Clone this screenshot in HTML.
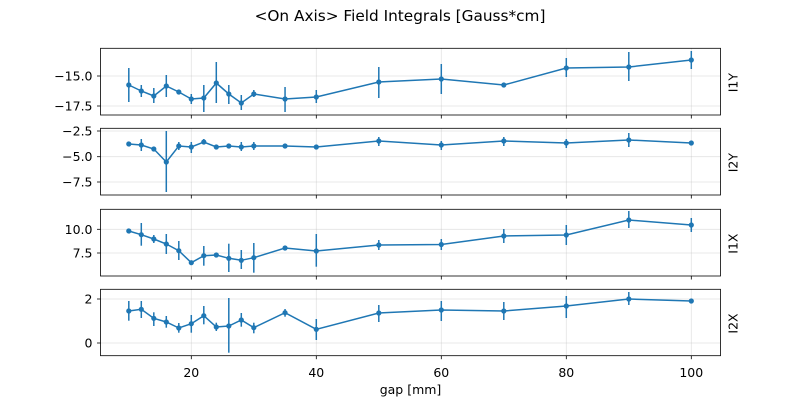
<!DOCTYPE html>
<html><head><meta charset="utf-8"><style>
body{margin:0;background:#fff;}
svg{display:block;font-family:"DejaVu Sans","Liberation Sans",sans-serif;}
</style></head><body>
<svg id="s" width="800" height="400" xmlns="http://www.w3.org/2000/svg">
<text x="400" y="21" font-size="15.3" text-anchor="middle">&lt;On Axis&gt; Field Integrals [Gauss*cm]</text>
</svg>
<script>
const s=document.getElementById('s');
const L=100.5,R=720.5;
const gx=g=>191.3+(g-20)*6.25;
const gaps=[10,12,14,16,18,20,22,24,26,28,30,35,40,50,60,70,80,90,100];
const panels=[
{t:48.3,b:115,lab:"I1Y",ticks:[[76,"−15.0"],[106,"−17.5"]],
d:[[85,68,102],[91,85,97],[96,88,103],[86,75,97],[92,90,94],[99,94,104],[98,85,112],[83,62,103],[94,85,104],[103,95,110],[94,90,97],[99,87,112],[97,90,103],[82,67,98],[79,64,94],[85,84,86],[68,58,77],[67,52,81],[60,51,69]]},
{t:128.3,b:195,lab:"I2Y",ticks:[[131,"−2.5"],[156.7,"−5.0"],[182,"−7.5"]],
d:[[144,142,146],[145,139,151],[149,147,151],[162,131,192],[146,142,150],[147,142,153],[142,139,144],[147,146,148],[146,145,147],[147,142,151],[146,142,150],[146,145,147],[147,146,148],[141,137,146],[145,141,150],[141,137,146],[143,139,148],[140,133,147],[143,141,145]]},
{t:209.3,b:276,lab:"I1X",ticks:[[229.3,"10.0"],[253,"7.5"]],
d:[[231,228.7,233],[234.7,223,245.7],[239,235,243],[244,234,254],[250.7,241,260],[262.7,261,264],[255.7,246,265.7],[255,253,257],[258.3,243.7,272],[260.3,250,269],[257.7,243,272.7],[248,246,250],[251,234,266.7],[245,240,250],[244.5,239,250],[236,229,243],[235,225,245],[220,211,228],[225,218,232]]},
{t:289.3,b:355.7,lab:"I2X",ticks:[[299,"2"],[343,"0"]],
d:[[311,301,320.7],[309.3,301,318],[318.3,312.3,326],[322,316,327.7],[328,323,332.7],[323.7,315,332.7],[315.7,306,324.3],[327,322.7,331],[326,298,352.7],[320,313,326.7],[327.7,322.7,333.3],[312.7,309,316.7],[329.3,319,340],[313,305,322],[310,301,321],[311,302,320],[306,296,318],[299,292,305],[301,299,303]]}
];
let h='';
const xt=[20,40,60,80,100];
const fs=12.5;
panels.forEach((p,pi)=>{
  xt.forEach(g=>{h+=`<line x1="${gx(g)}" x2="${gx(g)}" y1="${p.t}" y2="${p.b}" stroke="#b0b0b0" stroke-opacity="0.35" stroke-width="0.8"/>`;
    h+=`<line x1="${gx(g)}" x2="${gx(g)}" y1="${p.b}" y2="${p.b+3.5}" stroke="#000" stroke-width="0.8"/>`;});
  p.ticks.forEach(([y,t])=>{h+=`<line x1="${L}" x2="${R}" y1="${y}" y2="${y}" stroke="#b0b0b0" stroke-opacity="0.35" stroke-width="0.8"/>`;
    h+=`<line x1="${L-3.5}" x2="${L}" y1="${y}" y2="${y}" stroke="#000" stroke-width="0.8"/>`;
    h+=`<text x="${L-8}" y="${y+4.5}" font-size="${fs}" text-anchor="end">${t}</text>`;});
  let pts=p.d.map((v,i)=>gx(gaps[i])+','+v[0]).join(' ');
  p.d.forEach((v,i)=>{h+=`<line x1="${gx(gaps[i])}" x2="${gx(gaps[i])}" y1="${v[1]}" y2="${v[2]}" stroke="#1f77b4" stroke-width="1.5"/>`;});
  h+=`<polyline points="${pts}" fill="none" stroke="#1f77b4" stroke-width="1.5"/>`;
  p.d.forEach((v,i)=>{h+=`<circle cx="${gx(gaps[i])}" cy="${v[0]}" r="2.6" fill="#1f77b4"/>`;});
  h+=`<rect x="${L}" y="${p.t}" width="${R-L}" height="${p.b-p.t}" fill="none" stroke="#000" stroke-width="0.8"/>`;
  const cy=(p.t+p.b)/2+1;
  h+=`<text transform="translate(737.5,${cy}) rotate(-90)" font-size="${fs}" text-anchor="middle">${p.lab}</text>`;
});
xt.forEach(g=>{h+=`<text x="${gx(g)}" y="377" font-size="${fs}" text-anchor="middle">${g}</text>`;});
h+=`<text x="${(L+R)/2}" y="394" font-size="${fs}" text-anchor="middle">gap [mm]</text>`;
s.insertAdjacentHTML('beforeend',h);
</script>
</body></html>
